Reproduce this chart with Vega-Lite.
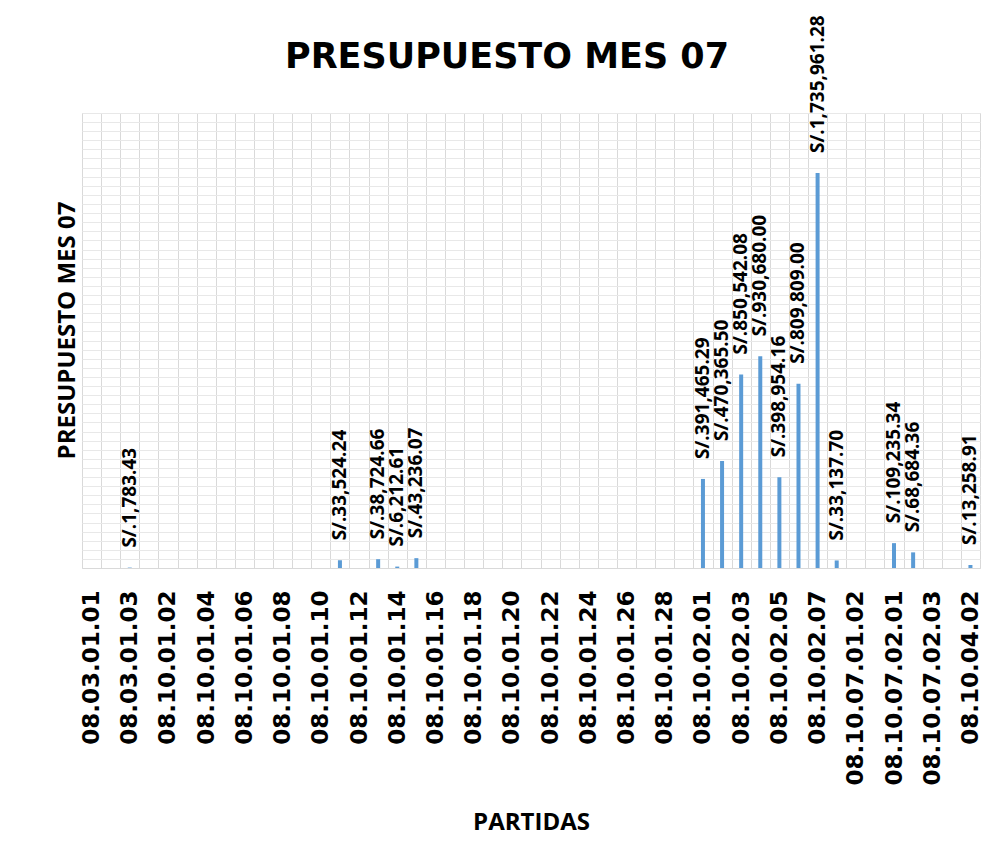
{
  "$schema": "https://vega.github.io/schema/vega-lite/v6.json",
  "width": 898,
  "height": 455,
  "autosize": {"type": "none"},
  "padding": {"left": 82, "top": 113, "right": 23, "bottom": 300},
  "background": "white",
  "config": {
    "locale": {"number": {"decimal": ".", "thousands": ",", "grouping": [3], "currency": ["S/.", ""]}},
    "view": {"stroke": "#d9d9d9", "strokeWidth": 1}
  },
  "title": {
    "text": "PRESUPUESTO MES 07",
    "font": "DejaVu Sans",
    "fontWeight": "bold",
    "fontSize": 35,
    "color": "black",
    "anchor": "middle",
    "frame": "group",
    "baseline": "alphabetic",
    "offset": 0,
    "dy": 88,
    "dx": -24
  },
  "data": {
    "values": [
      {"partida": "08.03.01.01", "monto": 0},
      {"partida": "08.03.01.02", "monto": 0},
      {"partida": "08.03.01.03", "monto": 1783.43},
      {"partida": "08.10.01.01", "monto": 0},
      {"partida": "08.10.01.02", "monto": 0},
      {"partida": "08.10.01.03", "monto": 0},
      {"partida": "08.10.01.04", "monto": 0},
      {"partida": "08.10.01.05", "monto": 0},
      {"partida": "08.10.01.06", "monto": 0},
      {"partida": "08.10.01.07", "monto": 0},
      {"partida": "08.10.01.08", "monto": 0},
      {"partida": "08.10.01.09", "monto": 0},
      {"partida": "08.10.01.10", "monto": 0},
      {"partida": "08.10.01.11", "monto": 33524.24},
      {"partida": "08.10.01.12", "monto": 0},
      {"partida": "08.10.01.13", "monto": 38724.66},
      {"partida": "08.10.01.14", "monto": 6212.61},
      {"partida": "08.10.01.15", "monto": 43236.07},
      {"partida": "08.10.01.16", "monto": 0},
      {"partida": "08.10.01.17", "monto": 0},
      {"partida": "08.10.01.18", "monto": 0},
      {"partida": "08.10.01.19", "monto": 0},
      {"partida": "08.10.01.20", "monto": 0},
      {"partida": "08.10.01.21", "monto": 0},
      {"partida": "08.10.01.22", "monto": 0},
      {"partida": "08.10.01.23", "monto": 0},
      {"partida": "08.10.01.24", "monto": 0},
      {"partida": "08.10.01.25", "monto": 0},
      {"partida": "08.10.01.26", "monto": 0},
      {"partida": "08.10.01.27", "monto": 0},
      {"partida": "08.10.01.28", "monto": 0},
      {"partida": "08.10.01.29", "monto": 0},
      {"partida": "08.10.02.01", "monto": 391465.29},
      {"partida": "08.10.02.02", "monto": 470365.50},
      {"partida": "08.10.02.03", "monto": 850542.08},
      {"partida": "08.10.02.04", "monto": 930680.00},
      {"partida": "08.10.02.05", "monto": 398954.16},
      {"partida": "08.10.02.06", "monto": 809809.00},
      {"partida": "08.10.02.07", "monto": 1735961.28},
      {"partida": "08.10.07.01.01", "monto": 33137.70},
      {"partida": "08.10.07.01.02", "monto": 0},
      {"partida": "08.10.07.01.03", "monto": 0},
      {"partida": "08.10.07.02.01", "monto": 109235.34},
      {"partida": "08.10.07.02.02", "monto": 68684.36},
      {"partida": "08.10.07.02.03", "monto": 0},
      {"partida": "08.10.04.01", "monto": 0},
      {"partida": "08.10.04.02", "monto": 13258.91}
    ]
  },
  "encoding": {
    "x": {
      "field": "partida",
      "type": "nominal",
      "sort": null,
      "scale": {"paddingInner": 0, "paddingOuter": 0},
      "axis": {
        "title": "PARTIDAS",
        "titleFont": "Open Sans",
        "titleFontSize": 24,
        "titleFontWeight": "bold",
        "titleColor": "black",
        "titleY": 254,
        "titleBaseline": "middle",
        "labelAngle": 270,
        "labelFont": "DejaVu Sans",
        "labelFontWeight": "bold",
        "labelFontSize": 23,
        "labelColor": "black",
        "labelPadding": 22,
        "labelLimit": 400,
        "labelOverlap": false,
        "labelBound": false,
        "labelExpr": "indexof(['08.03.01.01','08.03.01.03','08.10.01.02','08.10.01.04','08.10.01.06','08.10.01.08','08.10.01.10','08.10.01.12','08.10.01.14','08.10.01.16','08.10.01.18','08.10.01.20','08.10.01.22','08.10.01.24','08.10.01.26','08.10.01.28','08.10.02.01','08.10.02.03','08.10.02.05','08.10.02.07','08.10.07.01.02','08.10.07.02.01','08.10.07.02.03','08.10.04.02'], datum.value) >= 0 ? datum.label : ''",
        "ticks": false,
        "tickBand": "extent",
        "grid": true,
        "gridColor": "#d9d9d9",
        "domainColor": "#d9d9d9"
      }
    },
    "y": {
      "field": "monto",
      "type": "quantitative",
      "scale": {"domain": [0, 2000000], "nice": false},
      "axis": {
        "title": "PRESUPUESTO MES 07",
        "titleFont": "Open Sans",
        "titleFontSize": 24,
        "titleFontWeight": "bold",
        "titleColor": "black",
        "titleX": -15,
        "titleY": 217,
        "titleAngle": 270,
        "titleAlign": "center",
        "titleBaseline": "middle",
        "labels": false,
        "ticks": false,
        "domain": false,
        "grid": true,
        "gridColor": "#e8e8e8",
        "values": [0,40000,80000,120000,160000,200000,240000,280000,320000,360000,400000,440000,480000,520000,560000,600000,640000,680000,720000,760000,800000,840000,880000,920000,960000,1000000,1040000,1080000,1120000,1160000,1200000,1240000,1280000,1320000,1360000,1400000,1440000,1480000,1520000,1560000,1600000,1640000,1680000,1720000,1760000,1800000,1840000,1880000,1920000,1960000,2000000]
      }
    }
  },
  "layer": [
    {
      "mark": {"type": "bar", "size": 4, "color": "#5B9BD5"}
    },
    {
      "transform": [{"filter": "datum.monto > 0"}],
      "mark": {
        "type": "text",
        "angle": 270,
        "align": "left",
        "baseline": "middle",
        "dx": 20,
        "font": "Open Sans",
        "fontWeight": "bold",
        "fontSize": 19,
        "color": "black"
      },
      "encoding": {
        "text": {"field": "monto", "type": "quantitative", "format": "$,.2f"}
      }
    }
  ]
}
